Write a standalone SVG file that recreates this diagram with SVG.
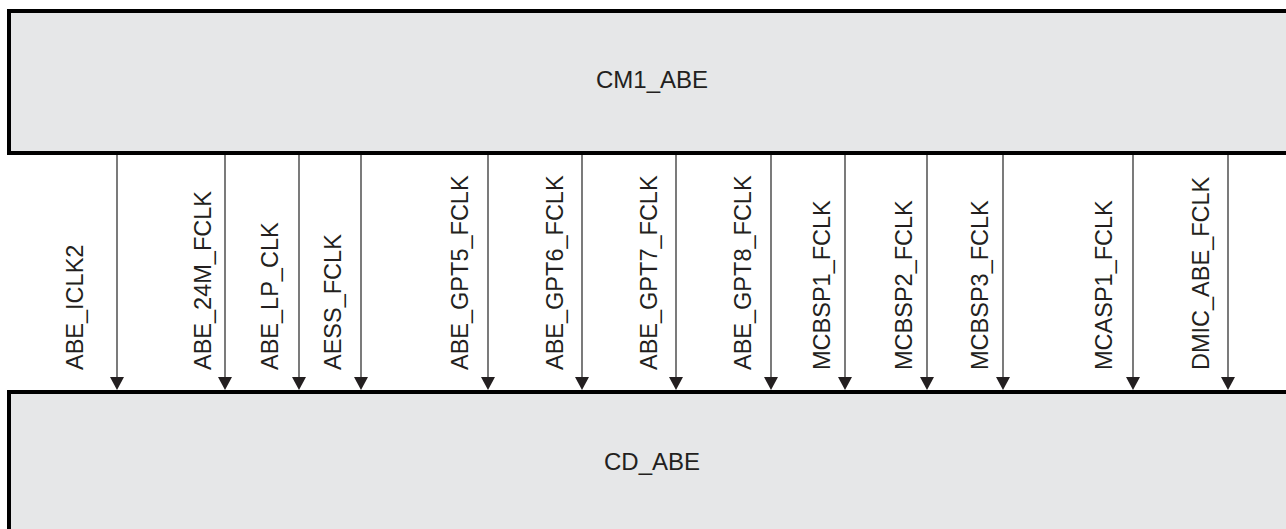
<svg xmlns="http://www.w3.org/2000/svg" width="1286" height="529" viewBox="0 0 1286 529">
<style>
.box{fill:#e6e7e8;stroke:#000;stroke-width:4}
.lbl{font-family:"Liberation Sans",Arial,sans-serif;font-size:23.5px;fill:#231f20}
.title{text-anchor:middle;font-size:24px}
.conn line{stroke:#333;stroke-width:1.3}
.conn polygon{fill:#231f20}
</style>
<rect width="1286" height="529" fill="#fff"/>
<g id="CM1_ABE">
<rect class="box" x="9" y="11" width="1290" height="142"/>
<text class="lbl title" x="652" y="88">CM1_ABE</text>
</g>
<g id="CD_ABE">
<rect class="box" x="9" y="392" width="1290" height="150"/>
<text class="lbl title" x="652" y="470">CD_ABE</text>
</g>
<g id="connectors" class="conn">
<line x1="117" y1="155" x2="117" y2="380"/><polygon points="110,377 124,377 117,390"/>
<line x1="225" y1="155" x2="225" y2="380"/><polygon points="218,377 232,377 225,390"/>
<line x1="299" y1="155" x2="299" y2="380"/><polygon points="292,377 306,377 299,390"/>
<line x1="361" y1="155" x2="361" y2="380"/><polygon points="354,377 368,377 361,390"/>
<line x1="488" y1="155" x2="488" y2="380"/><polygon points="481,377 495,377 488,390"/>
<line x1="582" y1="155" x2="582" y2="380"/><polygon points="575,377 589,377 582,390"/>
<line x1="676" y1="155" x2="676" y2="380"/><polygon points="669,377 683,377 676,390"/>
<line x1="771" y1="155" x2="771" y2="380"/><polygon points="764,377 778,377 771,390"/>
<line x1="845" y1="155" x2="845" y2="380"/><polygon points="838,377 852,377 845,390"/>
<line x1="927" y1="155" x2="927" y2="380"/><polygon points="920,377 934,377 927,390"/>
<line x1="1003" y1="155" x2="1003" y2="380"/><polygon points="996,377 1010,377 1003,390"/>
<line x1="1133" y1="155" x2="1133" y2="380"/><polygon points="1126,377 1140,377 1133,390"/>
<line x1="1228" y1="155" x2="1228" y2="380"/><polygon points="1221,377 1235,377 1228,390"/>
</g>
<g id="labels" class="lbl">
<text transform="translate(83,370) rotate(-90)">ABE_ICLK2</text>
<text transform="translate(211,370) rotate(-90)">ABE_24M_FCLK</text>
<text transform="translate(278,370) rotate(-90)">ABE_LP_CLK</text>
<text transform="translate(341,370) rotate(-90)">AESS_FCLK</text>
<text transform="translate(468,370) rotate(-90)">ABE_GPT5_FCLK</text>
<text transform="translate(563,370) rotate(-90)">ABE_GPT6_FCLK</text>
<text transform="translate(657,370) rotate(-90)">ABE_GPT7_FCLK</text>
<text transform="translate(751,370) rotate(-90)">ABE_GPT8_FCLK</text>
<text transform="translate(830,370) rotate(-90)">MCBSP1_FCLK</text>
<text transform="translate(912,370) rotate(-90)">MCBSP2_FCLK</text>
<text transform="translate(988,370) rotate(-90)">MCBSP3_FCLK</text>
<text transform="translate(1112,370) rotate(-90)">MCASP1_FCLK</text>
<text transform="translate(1209,370) rotate(-90)">DMIC_ABE_FCLK</text>
</g>
</svg>
